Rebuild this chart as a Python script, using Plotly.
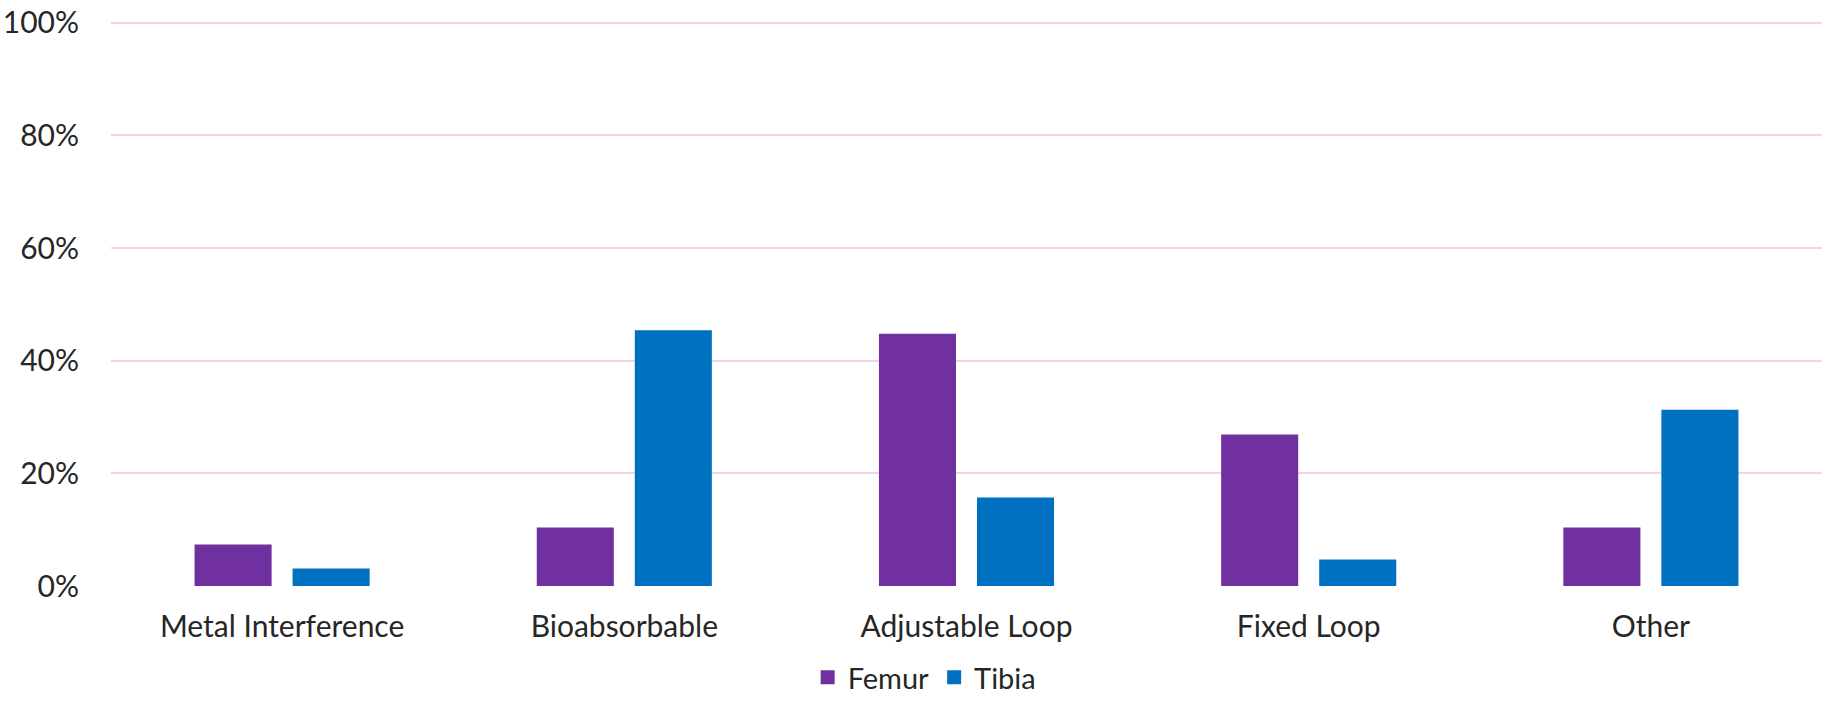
import plotly.graph_objects as go

categories = ["Metal Interference", "Bioabsorbable", "Adjustable Loop", "Fixed Loop", "Other"]
femur = [0.0735, 0.104, 0.448, 0.269, 0.104]
tibia = [0.031, 0.454, 0.157, 0.047, 0.313]
y_ticks = [0, 0.2, 0.4, 0.6, 0.8, 1.0]
y_tick_labels = ["0%", "20%", "40%", "60%", "80%", "100%"]

FONT = "Lato"
TEXT = "#262626"
C_FEMUR = "#7030A0"
C_TIBIA = "#0070C0"

fig = go.Figure()
fig.add_trace(go.Bar(name="Femur", x=categories, y=femur, marker_color=C_FEMUR,
                     marker_line_width=0, showlegend=False))
fig.add_trace(go.Bar(name="Tibia", x=categories, y=tibia, marker_color=C_TIBIA,
                     marker_line_width=0, showlegend=False))
# legend entries with larger square swatches
for name, col in [("Femur", C_FEMUR), ("Tibia", C_TIBIA)]:
    fig.add_trace(go.Scatter(name=name, x=[None], y=[None], mode="markers",
                             marker=dict(symbol="square", size=14, color=col),
                             showlegend=True))

fig.update_layout(
    width=1831, height=703,
    margin=dict(l=111, r=9, t=21, b=117, autoexpand=False),
    paper_bgcolor="white", plot_bgcolor="white",
    barmode="group", bargap=0.427, bargroupgap=0.214,
    font=dict(family=FONT, size=30, color=TEXT),
    showlegend=True,
    legend=dict(orientation="h", x=0.505, xref="container", xanchor="center",
                y=-0.01, yref="container", yanchor="bottom",
                font=dict(family=FONT, size=29, color=TEXT),
                itemwidth=30, traceorder="normal", tracegroupgap=0),
    xaxis=dict(showgrid=False, showline=False, ticks="", tickfont=dict(size=30),
               ticklabelstandoff=20),
    yaxis=dict(range=[0, 1.003], tickvals=y_ticks, ticktext=y_tick_labels,
               showgrid=True, gridcolor="#F2D3EF", gridwidth=1.5,
               zeroline=False, showline=False, ticks="",
               tickfont=dict(size=30), ticklabelstandoff=31),
)

fig.write_html("out.html")
